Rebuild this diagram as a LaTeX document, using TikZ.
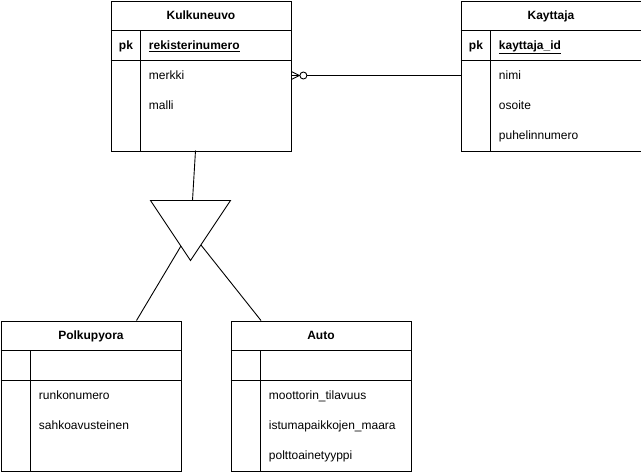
\documentclass[tikz,border=0pt]{standalone}
\usepackage{fontspec}
\setmainfont{Liberation Sans}
\usetikzlibrary{calc}
\begin{document}
\begin{tikzpicture}[x=1pt,y=-1pt,line width=0.9pt,
  tbl/.style={draw,minimum width=180pt,minimum height=150pt,anchor=north west,inner sep=0pt},
  ttl/.style={font=\fontsize{12}{14}\selectfont\bfseries,anchor=base,inner sep=0pt},
  keytxt/.style={font=\fontsize{12}{14}\selectfont\bfseries,anchor=base west,inner sep=0pt},
  fld/.style={font=\fontsize{12}{14}\selectfont,anchor=base west,inner sep=0pt},
  rel/.style={line width=0.9pt},
]
\useasboundingbox (0,0) rectangle (641,472);

% ---- tables ----
\node[tbl] (kul) at (110.5,0.5) {};
\node[tbl] (kay) at (460.5,0.5) {};
\node[tbl] (pol) at (0.5,320.5) {};
\node[tbl] (aut) at (230.5,320.5) {};

% row separators and key column of each table
\foreach \t/\kx in {kul/30,kay/30,pol/30,aut/30}{
  \draw ($(\t.north west)+(0,30)$) -- ($(\t.north east)+(0,30)$);
  \draw ($(\t.north west)+(0,60)$) -- ($(\t.north east)+(0,60)$);
  \draw ($(\t.north west)+(\kx,30)$) -- ($(\t.south west)+(\kx,0)$);
}

% Kulkuneuvo
\node[ttl] (kulT) at ($(kul.north)+(0,18.8)$) {Kulkuneuvo};
\node[keytxt] (kulPK) at ($(kul.north west)+(8,48.8)$) {pk};
\node[keytxt] (kulK) at ($(kul.north west)+(38,48.8)$) {\underline{rekisterinumero}};
\node[fld] (kulA1) at ($(kul.north west)+(38,78.8)$) {merkki};
\node[fld] (kulA2) at ($(kul.north west)+(38,108.8)$) {malli};

% Kayttaja
\node[ttl] (kayT) at ($(kay.north)+(0,18.8)$) {Kayttaja};
\node[keytxt] (kayPK) at ($(kay.north west)+(8,48.8)$) {pk};
\node[keytxt] (kayK) at ($(kay.north west)+(38,48.8)$) {\underline{kayttaja\_id}};
\node[fld] (kayA1) at ($(kay.north west)+(38,78.8)$) {nimi};
\node[fld] (kayA2) at ($(kay.north west)+(38,108.8)$) {osoite};
\node[fld] (kayA3) at ($(kay.north west)+(38,138.8)$) {puhelinnumero};

% Polkupyora
\node[ttl] (polT) at ($(pol.north)+(0,18.8)$) {Polkupyora};
\node[fld] (polA1) at ($(pol.north west)+(38,78.8)$) {runkonumero};
\node[fld] (polA2) at ($(pol.north west)+(38,108.8)$) {sahkoavusteinen};

% Auto
\node[ttl] (autT) at ($(aut.north)+(0,18.8)$) {Auto};
\node[fld] (autA1) at ($(aut.north west)+(38,78.8)$) {moottorin\_tilavuus};
\node[fld] (autA2) at ($(aut.north west)+(38,108.8)$) {istumapaikkojen\_maara};
\node[fld] (autA3) at ($(aut.north west)+(38,138.8)$) {polttoainetyyppi};

% ---- relationship Kulkuneuvo >o---- Kayttaja ----
\coordinate (kulR) at ($(kul.north east)+(0,75)$);
\coordinate (kayL) at ($(kay.north west)+(0,75)$);
\coordinate (foot) at ($(kulR)+(8,0)$);
\coordinate (ring) at ($(kulR)+(12,0)$);
\draw[rel] ($(kulR)+(0,-4)$) -- (foot) -- ($(kulR)+(0,4)$);
\draw[rel] (kulR) -- (foot);
\draw[rel] ($(ring)+(3.5,0)$) -- (kayL);
\draw[rel,fill=white] (ring) circle[radius=3.5];

% ---- specialisation triangle ----
\coordinate (triL) at (150.5,200.5);
\coordinate (triR) at (230.5,200.5);
\coordinate (triB) at (190.5,260.5);
\draw[rel,fill=white] (triL) -- (triR) -- (triB) -- cycle;
\coordinate (triTop) at (192.5,200.5);
\coordinate (kulB) at (195.5,150.5);
\draw[rel] (kulB) -- (triTop);
\coordinate (triLe) at ($(triL)!0.76!(triB)$);
\coordinate (triRe) at ($(triR)!0.74!(triB)$);
\coordinate (polTop) at (136.5,320.5);
\coordinate (autTop) at (261,320.5);
\draw[rel] (triLe) -- (polTop);
\draw[rel] (triRe) -- (autTop);
\end{tikzpicture}
\end{document}
